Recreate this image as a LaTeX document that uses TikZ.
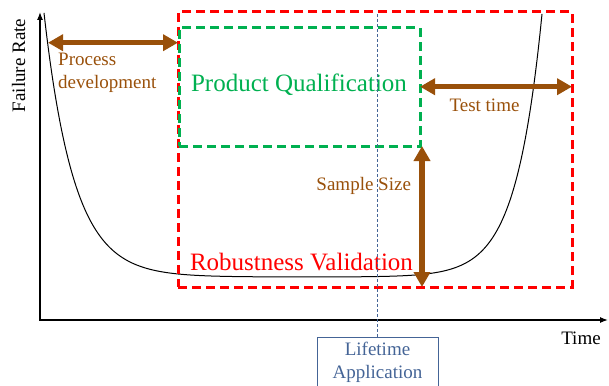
\documentclass[tikz,border=0pt]{standalone}
\usepackage{fontspec}
\setmainfont{Liberation Serif}
\usetikzlibrary{calc}
\usetikzlibrary{arrows.meta}

\definecolor{pbrown}{RGB}{153,80,10}
\definecolor{pgreen}{RGB}{0,176,80}
\definecolor{pblue}{RGB}{68,100,150}

\begin{document}
\begin{tikzpicture}[x=1pt, y=-1pt,
  small/.style={font=\fontsize{19}{23}\selectfont},
  big/.style={font=\fontsize{25}{30}\selectfont},
  redbox/.style={draw=red, line width=3pt, dash pattern=on 9pt off 5pt, outer sep=0pt, minimum width=394pt, minimum height=275pt},
  greenbox/.style={draw=pgreen, line width=3pt, dash pattern=on 9pt off 5pt, outer sep=0pt, minimum width=241pt, minimum height=118pt},
  bigarrow/.style={pbrown, line width=5.5pt, {Triangle[length=15pt,width=16pt]}-{Triangle[length=15pt,width=16pt]}},
  lifebox/.style={draw=pblue, text=pblue, line width=1pt, small, align=center, minimum width=121pt, inner ysep=5pt}]
  \useasboundingbox (0,0) rectangle (609,385);
  \clip (0,0) rectangle (609,385);

  \coordinate (O) at (40,320);
  \coordinate (ytop) at (40,12);
  \coordinate (xend) at (608,320);
  \draw [line width=1.3pt, {Latex[length=8pt,width=6pt]}-{Latex[length=8pt,width=6pt]}] (ytop) -- (O) -- (xend);
  \node [small, rotate=90, anchor=base] (frate) at (25,65.5) {Failure Rate};
  \node [small, anchor=base] (time) at (581,344) {Time};

  \draw [line width=1pt] plot [domain=44:542, samples=250, smooth] (\x, {277-177*exp(-(\x-56)/30)-177*exp((\x-531.7)/26)});

  \node [redbox] (robust) at (375,149.5) {};
  \node [greenbox] (qual) at (299.5,87) {};
  \node [big, text=pgreen, anchor=base] (qualtext) at (299,91.7) {Product Qualification};
  \node [big, text=red, anchor=base] (robusttext) at (301.5,270) {Robustness Validation};

  \node [lifebox, anchor=north] (life) at (377.5,336.7) {Lifetime\\Application};
  \draw [pblue, line width=1pt, dash pattern=on 3pt off 2pt] (life.north) -- (life.north |- robust.north);

  \coordinate (pd) at (48,42.7);
  \draw [bigarrow] (pd) -- (pd -| robust.west);
  \node [small, text=pbrown, align=left, anchor=north west, inner sep=0pt] (pdtext) at (58,53) {Process\\development};

  \coordinate (tt) at (500,86.7);
  \draw [bigarrow] (qual.east |- tt) -- (robust.east |- tt);
  \node [small, text=pbrown, anchor=base] (tttext) at (484.5,111) {Test time};

  \draw [bigarrow] ($(qual.south east)+(2,0)$) -- ($(qual.south east |- robust.south)+(2,0)$);
  \node [small, text=pbrown, anchor=base] (sstext) at (363.7,190) {Sample Size};
\end{tikzpicture}
\end{document}
